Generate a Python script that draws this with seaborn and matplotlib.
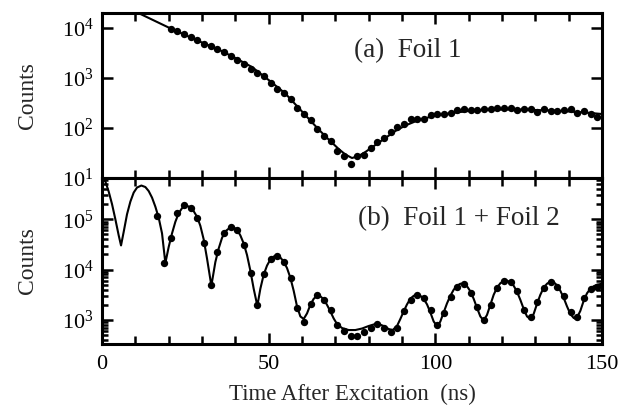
import numpy as np
import pandas as pd
import seaborn as sns
import matplotlib
matplotlib.use("Agg")
import matplotlib.pyplot as plt
from matplotlib.ticker import LogLocator, MultipleLocator, NullFormatter

# ---- data (counts stored as log10 values) ----
# (a) Foil 1 : measured points
a_time = [20.6, 22.6, 24.6, 26.6, 28.6, 30.6, 32.6, 34.6, 36.6, 38.6,
          40.6, 42.6, 44.6, 46.6, 48.6, 50.6, 52.6, 54.6, 56.6, 58.6,
          60.6, 62.6, 64.6, 66.6, 68.6, 70.6, 72.6, 74.6, 76.6, 78.6,
          80.6, 82.6, 84.6, 86.6, 88.6, 90.6, 92.6, 94.6, 96.6, 98.6,
          100.6, 102.6, 104.6, 106.6, 108.6, 110.6, 112.6, 114.6, 116.6, 118.6,
          120.6, 122.6, 124.6, 126.6, 128.6, 130.6, 132.6, 134.6, 136.6, 138.6,
          140.6, 142.6, 144.6, 146.6, 148.6]
a_log10 = [3.99, 3.94, 3.88, 3.83, 3.76, 3.69, 3.64, 3.58, 3.52, 3.45,
           3.36, 3.28, 3.18, 3.11, 3.04, 2.91, 2.79, 2.71, 2.59, 2.41,
           2.29, 2.16, 1.99, 1.84, 1.74, 1.54, 1.45, 1.29, 1.45, 1.47,
           1.61, 1.73, 1.81, 1.93, 2.03, 2.08, 2.18, 2.18, 2.18, 2.27,
           2.28, 2.29, 2.31, 2.36, 2.38, 2.37, 2.36, 2.39, 2.38, 2.41,
           2.41, 2.41, 2.37, 2.39, 2.39, 2.33, 2.39, 2.34, 2.34, 2.36,
           2.39, 2.31, 2.34, 2.29, 2.23]

# (a) fit curve
a_fit_time = [0, 5, 10, 15, 20, 25, 30, 35, 40, 45, 50, 55, 60, 65, 68, 71, 73,
              75, 77, 79, 82, 85, 88, 91, 95, 100, 105, 110, 115, 120, 125,
              130, 135, 140, 145, 150]
a_fit_log10 = [4.66, 4.49, 4.33, 4.17, 4.01, 3.86, 3.71, 3.57, 3.40, 3.22, 2.96,
               2.69, 2.33, 1.97, 1.77, 1.58, 1.47, 1.40, 1.44, 1.52, 1.66, 1.80,
               1.94, 2.05, 2.16, 2.25, 2.30, 2.34, 2.36, 2.37, 2.37, 2.36, 2.35,
               2.33, 2.31, 2.28]

# (b) Foil 1 + Foil 2 : measured points
b_time = [16.6, 18.6, 20.6, 22.6, 24.6, 26.6, 28.6, 30.6, 32.6, 34.6,
          36.6, 38.6, 40.6, 42.6, 44.6, 46.6, 48.6, 50.6, 52.6, 54.6,
          56.6, 58.6, 60.6, 62.6, 64.6, 66.6, 68.6, 70.6, 72.6, 74.6,
          76.6, 78.6, 80.6, 82.6, 84.6, 86.6, 88.6, 90.6, 92.6, 94.6,
          96.6, 98.6, 100.6, 102.6, 104.6, 106.6, 108.6, 110.6, 112.6, 114.6,
          116.6, 118.6, 120.6, 122.6, 124.6, 126.6, 128.6, 130.6, 132.6, 134.6,
          136.6, 138.6, 140.6, 142.6, 144.6, 146.6, 148.6]
b_log10 = [5.07, 4.14, 4.62, 5.12, 5.28, 5.23, 5.02, 4.52, 3.70, 4.35,
           4.73, 4.85, 4.79, 4.49, 3.93, 3.30, 3.92, 4.22, 4.27, 4.16,
           3.83, 3.24, 2.95, 3.31, 3.49, 3.40, 3.20, 2.90, 2.78, 2.69,
           2.69, 2.77, 2.85, 2.92, 2.85, 2.76, 2.85, 3.17, 3.40, 3.50,
           3.43, 3.19, 2.90, 3.13, 3.46, 3.66, 3.72, 3.54, 3.26, 2.99,
           3.30, 3.63, 3.77, 3.75, 3.58, 3.20, 3.05, 3.36, 3.63, 3.75,
           3.66, 3.48, 3.15, 3.05, 3.43, 3.61, 3.66]

# (b) fit curve
b_fit_time = [0, 1, 2, 3, 4, 5, 5.7, 6.5, 7.5, 8.5, 9.5, 10.5, 11.8, 13, 14,
              15, 16, 17, 18, 19, 20, 21, 22, 23, 24, 25.3, 26.5, 27.5, 28.5,
              29.5, 30.5, 31.5, 32.8, 34, 35, 36, 37, 38.5, 39.5, 40.5, 41.5,
              42.5, 43.5, 44.5, 45.5, 46.6, 47.5, 48.5, 49.5, 50.5, 51.5, 52.5,
              53.5, 54.5, 55.5, 56.5, 57.5, 58.5, 59.5, 60.5, 61.5, 62.5, 63.5,
              64.5, 65.5, 66.5, 67.5, 68.5, 69.5, 70.5, 72, 74, 76, 78, 80, 82,
              83, 84.5, 86, 87.2, 88.5, 89.5, 90.5, 91.5, 92.5, 93.5, 94.5,
              95.5, 96.5, 97.5, 98.5, 99.5, 100.6, 101.5, 102.5, 103.5, 104.5,
              105.5, 106.5, 107.5, 108.5, 109.5, 110.5, 111.5, 112.5, 113.5,
              114.5, 115.5, 116.5, 117.5, 118.5, 119.5, 120.5, 121.5, 122.5,
              123.5, 124.5, 125.5, 126.5, 127.5, 128.5, 129.5, 130.5, 131.5,
              132.5, 133.5, 134.5, 135.5, 136.5, 137.5, 138.5, 139.5, 140.5,
              141.5, 142.3, 143.5, 144.5, 145.5, 146.5, 147.5, 148.5, 150]
b_fit_log10 = [5.85, 5.75, 5.55, 5.30, 5.00, 4.68, 4.48, 4.75, 5.10, 5.35, 5.53,
               5.63, 5.67, 5.64, 5.56, 5.43, 5.25, 5.03, 4.72, 4.13, 4.45, 4.72,
               4.95, 5.12, 5.22, 5.27, 5.24, 5.16, 5.05, 4.87, 4.60, 4.22, 3.68,
               4.15, 4.42, 4.63, 4.76, 4.84, 4.84, 4.79, 4.68, 4.52, 4.29, 3.98,
               3.62, 3.28, 3.62, 3.90, 4.08, 4.20, 4.26, 4.28, 4.24, 4.16, 4.03,
               3.84, 3.58, 3.27, 3.07, 3.02, 3.13, 3.30, 3.42, 3.48, 3.47, 3.41,
               3.30, 3.17, 3.03, 2.92, 2.84, 2.80, 2.80, 2.83, 2.88, 2.92, 2.92,
               2.88, 2.82, 2.80, 2.88, 3.02, 3.17, 3.31, 3.42, 3.48, 3.50, 3.48,
               3.42, 3.31, 3.15, 2.97, 2.87, 2.97, 3.15, 3.33, 3.48, 3.60, 3.68,
               3.72, 3.72, 3.67, 3.57, 3.42, 3.24, 3.07, 2.99, 3.10, 3.30, 3.50,
               3.64, 3.73, 3.77, 3.78, 3.75, 3.68, 3.56, 3.40, 3.22, 3.07, 3.02,
               3.12, 3.32, 3.50, 3.64, 3.72, 3.76, 3.75, 3.69, 3.58, 3.44, 3.27,
               3.12, 3.04, 3.02, 3.18, 3.38, 3.53, 3.62, 3.67, 3.70, 3.72]

panel_labels = ["(a)  Foil 1", "(b)  Foil 1 + Foil 2"]

a_pts = pd.DataFrame({"t": a_time, "counts": np.power(10.0, a_log10)})
a_fit = pd.DataFrame({"t": a_fit_time, "counts": np.power(10.0, a_fit_log10)})
b_pts = pd.DataFrame({"t": b_time, "counts": np.power(10.0, b_log10)})
b_fit = pd.DataFrame({"t": b_fit_time, "counts": np.power(10.0, b_fit_log10)})

# ---- style ----
sns.set_style("ticks")
plt.rcParams["font.family"] = ["Liberation Serif", "DejaVu Serif"]
plt.rcParams["mathtext.fontset"] = "custom"
plt.rcParams["mathtext.rm"] = "Liberation Serif"
plt.rcParams["mathtext.it"] = "Liberation Serif:italic"

fig = plt.figure(figsize=(6.21, 4.09), dpi=100)
ax_a = fig.add_axes([0.1643, 0.5648, 0.8051, 0.4034])
ax_b = fig.add_axes([0.1643, 0.1589, 0.8051, 0.4059])

for ax, pts, fit in [(ax_a, a_pts, a_fit), (ax_b, b_pts, b_fit)]:
    ax.set_yscale("log")
    sns.lineplot(data=fit, x="t", y="counts", ax=ax, color="black",
                 linewidth=1.5, sort=False, estimator=None)
    sns.scatterplot(data=pts, x="t", y="counts", ax=ax, color="black",
                    s=28, linewidth=0, zorder=3)
    ax.set_xlim(0, 150)
    ax.xaxis.set_major_locator(MultipleLocator(50))
    ax.xaxis.set_minor_locator(MultipleLocator(10))
    ax.yaxis.set_major_locator(LogLocator(base=10))
    ax.yaxis.set_minor_locator(LogLocator(base=10, subs=np.arange(2, 10)))
    ax.yaxis.set_minor_formatter(NullFormatter())
    ax.tick_params(which="both", direction="in", top=True, right=True,
                   width=1.8, labelsize=16, colors="black")
    ax.tick_params(which="major", length=8, pad=6)
    ax.tick_params(which="minor", length=4)
    ax.tick_params(axis="x", which="minor", length=6)
    ax.tick_params(axis="x", which="major", pad=8)
    for sp in ax.spines.values():
        sp.set_linewidth(2.2)
        sp.set_color("black")
    ax.set_ylabel("Counts", fontsize=17)
    ax.set_xlabel("")

ax_a.set_ylim(10, 2.0e4)
ax_a.set_yticks([1e1, 1e2, 1e3, 1e4])
ax_a.tick_params(axis="x", labelbottom=False)

ax_b.set_ylim(333, 6.6e5)
ax_b.set_yticks([1e3, 1e4, 1e5])
ax_b.set_xlabel("Time After Excitation  (ns)", fontsize=16.5, labelpad=7)

ax_a.yaxis.set_label_coords(-0.128, 0.5)
ax_b.yaxis.set_label_coords(-0.128, 0.5)

ax_a.text(0.611, 0.77, panel_labels[0], transform=ax_a.transAxes,
          ha="center", va="center", fontsize=19.5)
ax_b.text(0.713, 0.753, panel_labels[1], transform=ax_b.transAxes,
          ha="center", va="center", fontsize=19.5)

fig.savefig("out.png", dpi=100)
